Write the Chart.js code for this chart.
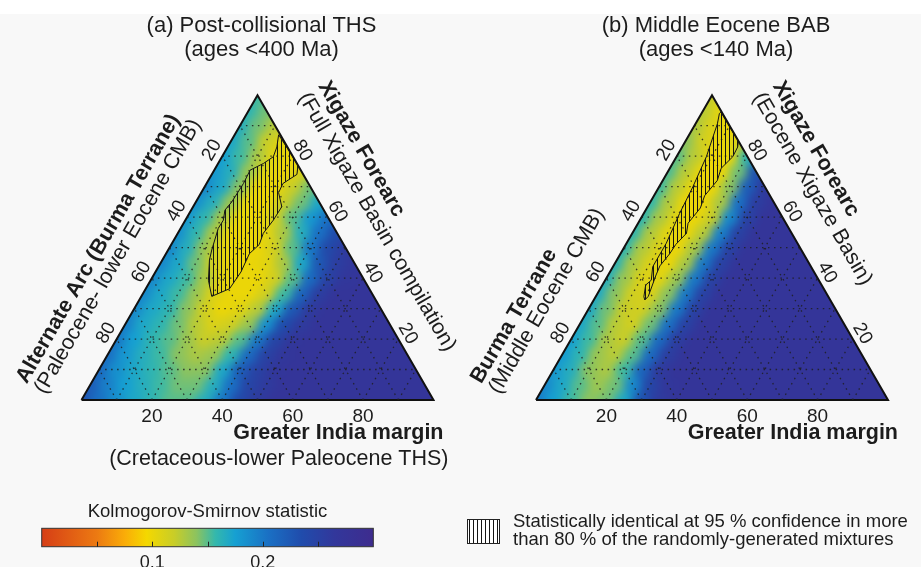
<!DOCTYPE html>
<html>
<head>
<meta charset="utf-8">
<script src="https://cdn.jsdelivr.net/npm/chart.js@4.4.1/dist/chart.umd.min.js"></script>
<style>
    html, body { margin: 0; padding: 0; }
    body {
        width: 921px;
        height: 567px;
        overflow: hidden;
        background: linear-gradient(#ffffff 0, #ffffff 14px, #f8f8f8 14px);
    }
    #wrap { position: relative; width: 921px; height: 567px; }
</style>
</head>
<body>
<div id="wrap"><canvas id="ternaryChart"></canvas></div>
<script>
// ---- data ----
const panelTitles = [
    ['(a) Post-collisional THS', '(ages <400 Ma)'],
    ['(b) Middle Eocene BAB', '(ages <140 Ma)'],
];
const leftAxisTitles = [
    ['Alternate Arc (Burma Terrane)', '(Paleocene- lower Eocene CMB)'],
    ['Burma Terrane', '(Middle Eocene CMB)'],
];
const rightAxisTitles = [
    ['Xigaze Forearc', '(Full Xigaze Basin compilation)'],
    ['Xigaze Forearc', '(Eocene Xigaze Basin)'],
];
const bottomAxisTitles = [
    ['Greater India margin', '(Cretaceous-lower Paleocene THS)'],
    ['Greater India margin', ''],
];
const axisTicks = [20, 40, 60, 80];
const gridLevels = [10, 20, 30, 40, 50, 60, 70, 80, 90];

// KS statistic at ternary nodes, 5 % steps.
// row k = Xigaze k*5 %, entry i = Greater India i*5 % (rest is Alternate Arc / Burma)
const nodeStep = 5;
const ksPanelA = [
    [0.23, 0.205, 0.185, 0.17, 0.16, 0.15, 0.15, 0.165, 0.20, 0.24, 0.26, 0.27, 0.27, 0.27, 0.27, 0.27, 0.27, 0.27, 0.27, 0.27, 0.27],
    [0.22, 0.195, 0.175, 0.165, 0.155, 0.145, 0.145, 0.165, 0.205, 0.245, 0.26, 0.27, 0.27, 0.27, 0.27, 0.27, 0.27, 0.27, 0.27, 0.27],
    [0.21, 0.185, 0.17, 0.16, 0.15, 0.14, 0.14, 0.17, 0.22, 0.25, 0.265, 0.27, 0.27, 0.27, 0.27, 0.27, 0.27, 0.27, 0.27],
    [0.205, 0.18, 0.165, 0.155, 0.14, 0.13, 0.135, 0.16, 0.21, 0.25, 0.265, 0.27, 0.27, 0.27, 0.27, 0.27, 0.27, 0.27],
    [0.20, 0.175, 0.16, 0.15, 0.135, 0.12, 0.125, 0.15, 0.20, 0.245, 0.265, 0.27, 0.27, 0.27, 0.27, 0.27, 0.27],
    [0.195, 0.17, 0.16, 0.145, 0.125, 0.11, 0.115, 0.135, 0.185, 0.235, 0.26, 0.27, 0.27, 0.27, 0.27, 0.27],
    [0.19, 0.17, 0.16, 0.14, 0.115, 0.10, 0.105, 0.125, 0.17, 0.225, 0.26, 0.27, 0.27, 0.27, 0.27],
    [0.19, 0.17, 0.155, 0.135, 0.11, 0.10, 0.10, 0.115, 0.155, 0.215, 0.255, 0.27, 0.27, 0.27],
    [0.19, 0.17, 0.155, 0.13, 0.105, 0.10, 0.10, 0.115, 0.15, 0.21, 0.25, 0.265, 0.27],
    [0.19, 0.17, 0.145, 0.115, 0.10, 0.10, 0.105, 0.13, 0.17, 0.225, 0.255, 0.265],
    [0.19, 0.165, 0.135, 0.105, 0.10, 0.10, 0.115, 0.15, 0.20, 0.24, 0.26],
    [0.185, 0.16, 0.13, 0.10, 0.10, 0.105, 0.13, 0.165, 0.205, 0.235],
    [0.18, 0.16, 0.13, 0.10, 0.10, 0.115, 0.15, 0.18, 0.205],
    [0.185, 0.165, 0.135, 0.10, 0.10, 0.12, 0.145, 0.17],
    [0.19, 0.17, 0.14, 0.10, 0.10, 0.12, 0.145],
    [0.18, 0.165, 0.135, 0.105, 0.10, 0.11],
    [0.175, 0.155, 0.13, 0.105, 0.10],
    [0.17, 0.15, 0.12, 0.105],
    [0.165, 0.145, 0.125],
    [0.16, 0.145],
    [0.155],
];
const ksPanelB = [
    [0.20, 0.175, 0.155, 0.14, 0.145, 0.17, 0.23, 0.26, 0.27, 0.27, 0.27, 0.27, 0.27, 0.27, 0.27, 0.27, 0.27, 0.27, 0.27, 0.27, 0.27],
    [0.19, 0.17, 0.15, 0.135, 0.145, 0.19, 0.245, 0.265, 0.27, 0.27, 0.27, 0.27, 0.27, 0.27, 0.27, 0.27, 0.27, 0.27, 0.27, 0.27],
    [0.18, 0.165, 0.14, 0.13, 0.155, 0.215, 0.26, 0.27, 0.27, 0.27, 0.27, 0.27, 0.27, 0.27, 0.27, 0.27, 0.27, 0.27, 0.27],
    [0.178, 0.16, 0.135, 0.125, 0.15, 0.21, 0.255, 0.27, 0.27, 0.27, 0.27, 0.27, 0.27, 0.27, 0.27, 0.27, 0.27, 0.27],
    [0.175, 0.155, 0.13, 0.12, 0.15, 0.21, 0.255, 0.27, 0.27, 0.27, 0.27, 0.27, 0.27, 0.27, 0.27, 0.27, 0.27],
    [0.17, 0.15, 0.125, 0.115, 0.145, 0.205, 0.25, 0.27, 0.27, 0.27, 0.27, 0.27, 0.27, 0.27, 0.27, 0.27],
    [0.17, 0.145, 0.12, 0.115, 0.14, 0.20, 0.25, 0.27, 0.27, 0.27, 0.27, 0.27, 0.27, 0.27, 0.27],
    [0.168, 0.14, 0.115, 0.11, 0.14, 0.20, 0.25, 0.27, 0.27, 0.27, 0.27, 0.27, 0.27, 0.27],
    [0.165, 0.135, 0.11, 0.105, 0.135, 0.20, 0.25, 0.27, 0.27, 0.27, 0.27, 0.27, 0.27],
    [0.162, 0.13, 0.11, 0.10, 0.13, 0.20, 0.25, 0.27, 0.27, 0.27, 0.27, 0.27],
    [0.16, 0.128, 0.11, 0.10, 0.13, 0.20, 0.25, 0.27, 0.27, 0.27, 0.27],
    [0.16, 0.128, 0.105, 0.10, 0.125, 0.195, 0.25, 0.27, 0.27, 0.27],
    [0.16, 0.13, 0.105, 0.10, 0.12, 0.19, 0.25, 0.27, 0.27],
    [0.158, 0.128, 0.10, 0.10, 0.13, 0.205, 0.255, 0.27],
    [0.155, 0.125, 0.10, 0.10, 0.14, 0.22, 0.26],
    [0.152, 0.125, 0.10, 0.10, 0.145, 0.23],
    [0.15, 0.125, 0.10, 0.10, 0.16],
    [0.14, 0.115, 0.10, 0.11],
    [0.13, 0.11, 0.10],
    [0.125, 0.105],
    [0.12],
];

// outlines of the hatched "statistically identical" areas, [Greater India %, Xigaze %]
const hatchPanelA = [
    [12.5, 87], [17.5, 82.3], [23, 77], [24.2, 74], [21.7, 71], [22, 68], [25.2, 63.4], [25, 59],
    [24.3, 54.7], [25, 51], [23.7, 48], [24.3, 42], [23.8, 36.5], [20, 34], [16.4, 39.3], [13.4, 45.9],
    [12.4, 49.2], [10.7, 56.3], [10.8, 59], [9.6, 62.3], [10.2, 65], [10.5, 71], [10.2, 75.4],
    [12.9, 77.6], [14.6, 79.8], [14, 83],
];
const hatchPanelB = [
    [5.3, 94.5], [10.2, 89.6], [15, 85], [15.8, 83], [16, 79.8], [14.6, 76], [15.5, 72], [14.4, 67],
    [15.2, 63], [14.2, 58], [15.4, 54.7], [14.2, 51], [14, 48], [13.2, 44], [13.6, 41], [14.9, 34],
    [14.5, 32.8], [13.7, 33.9], [12.3, 37.7], [13.1, 39.3], [11.3, 43.7], [11.3, 51.4], [10.2, 61.2],
    [9.6, 69.9], [8.5, 79.8], [6.2, 90.7], [5.1, 94],
];

const ksRange = [0, 0.3];
const colorbarTicks = [0.05, 0.1, 0.15, 0.2, 0.25];
const colorbarLabels = ['', '0.1', '', '0.2', ''];
const colorbarTitle = 'Kolmogorov-Smirnov statistic';
const legendLines = ['Statistically identical at 95 % confidence in more', 'than 80 % of the randomly-generated mixtures'];

// ---- layout ----
const UNIT = 3.52;          // px per ternary unit (base = 100 units)
const ORIGIN_X = 81.5;      // left corner of panel (a)
const BASE_Y = 400;
const panelShift = [0, 129.12];
const H3 = Math.sqrt(3) / 2;
const FONT = '"Liberation Sans", Arial, sans-serif';
const TEXT = '#1c1c1c';

const cmapStops = [
    [0.00, [214, 62, 22]],
    [0.05, [236, 122, 18]],
    [0.075, [250, 172, 8]],
    [0.095, [244, 216, 0]],
    [0.12, [200, 205, 40]],
    [0.14, [140, 195, 95]],
    [0.157, [52, 184, 172]],
    [0.175, [22, 160, 210]],
    [0.205, [26, 112, 196]],
    [0.235, [32, 76, 172]],
    [0.265, [50, 55, 155]],
    [0.30, [62, 44, 142]],
];

function ksColor(v) {
    for (let i = 1; i < cmapStops.length; i++) {
        const [v1, c1] = cmapStops[i];
        const [v0, c0] = cmapStops[i - 1];
        if (v <= v1) {
            const t = Math.max(0, (v - v0) / (v1 - v0));
            const c = c0.map((a, j) => Math.round(a + (c1[j] - a) * t));
            return `rgb(${c[0]},${c[1]},${c[2]})`;
        }
    }
    const last = cmapStops[cmapStops.length - 1][1];
    return `rgb(${last[0]},${last[1]},${last[2]})`;
}

function toXY(gi, xig, panel) {
    return { x: panelShift[panel] + gi + xig / 2, y: xig * H3 };
}

function hatchPattern() {
    const c = document.createElement('canvas');
    c.width = 4;
    c.height = 4;
    const g = c.getContext('2d');
    g.fillStyle = '#151515';
    g.fillRect(1, 0, 1, 4);
    return g.createPattern(c, 'repeat');
}

const pattern = hatchPattern();

function lineSet(points, extra) {
    return Object.assign({
        type: 'line',
        data: points,
        pointRadius: 0,
        tension: 0,
        fill: false,
        borderColor: '#111',
        borderWidth: 1,
    }, extra);
}

function buildDatasets() {
    const sets = [];
    [hatchPanelA, hatchPanelB].forEach((poly, p) => {
        const pts = poly.concat([poly[0]]).map(([gi, xig]) => toXY(gi, xig, p));
        sets.push(lineSet(pts, { fill: 'shape', backgroundColor: pattern, borderColor: '#151515', borderWidth: 1 }));
    });
    [0, 1].forEach((p) => {
        gridLevels.forEach((g) => {
            const dash = { borderDash: [1.5, 4.5], borderWidth: 1.3, borderColor: 'rgba(30,30,30,0.85)' };
            sets.push(lineSet([toXY(g, 0, p), toXY(g, 100 - g, p)], dash));
            sets.push(lineSet([toXY(0, g, p), toXY(100 - g, g, p)], dash));
            sets.push(lineSet([toXY(100 - g, 0, p), toXY(0, 100 - g, p)], dash));
        });
        const outline = [toXY(0, 0, p), toXY(100, 0, p), toXY(0, 100, p), toXY(0, 0, p)];
        sets.push(lineSet(outline, { borderWidth: 2, borderColor: '#111' }));
    });
    return sets;
}

function pix(chart, gi, xig, panel) {
    const p = toXY(gi, xig, panel);
    return [chart.scales.x.getPixelForValue(p.x), chart.scales.y.getPixelForValue(p.y)];
}

function trianglePath(ctx, chart, panel) {
    ctx.beginPath();
    ctx.moveTo(...pix(chart, 0, 0, panel));
    ctx.lineTo(...pix(chart, 100, 0, panel));
    ctx.lineTo(...pix(chart, 0, 100, panel));
    ctx.closePath();
}

function drawField(chart, ks, panel) {
    const ctx = chart.ctx;
    const layer = document.createElement('canvas');
    layer.width = chart.width;
    layer.height = chart.height;
    const lc = layer.getContext('2d');
    const xs = chart.scales.x;
    const r = (xs.getPixelForValue(nodeStep) - xs.getPixelForValue(0)) / Math.sqrt(3);

    // pad outside the triangle so the blur keeps the edges full
    ks.forEach((row, k) => row.forEach((v, i) => {
        const gi = i * nodeStep;
        const xig = k * nodeStep;
        if (gi === 0 || xig === 0 || gi + xig === 100) {
            const [cx, cy] = pix(chart, gi, xig, panel);
            lc.fillStyle = ksColor(v);
            lc.beginPath();
            lc.arc(cx, cy, r * 2.2, 0, Math.PI * 2);
            lc.fill();
        }
    }));

    ks.forEach((row, k) => row.forEach((v, i) => {
        const [cx, cy] = pix(chart, i * nodeStep, k * nodeStep, panel);
        lc.fillStyle = ksColor(v);
        lc.beginPath();
        for (let a = 0; a < 6; a++) {
            const ang = Math.PI / 6 + a * Math.PI / 3;
            lc.lineTo(cx + r * 1.04 * Math.cos(ang), cy + r * 1.04 * Math.sin(ang));
        }
        lc.closePath();
        lc.fill();
    }));

    ctx.save();
    trianglePath(ctx, chart, panel);
    ctx.clip();
    ctx.filter = 'blur(5px)';
    ctx.drawImage(layer, 0, 0);
    ctx.restore();
}

function rotText(ctx, text, x, y, ang, font, align) {
    ctx.save();
    ctx.translate(x, y);
    ctx.rotate(ang);
    ctx.font = font;
    ctx.textAlign = align;
    ctx.textBaseline = 'middle';
    ctx.fillText(text, 0, 0);
    ctx.restore();
}

const fieldPlugin = {
    id: 'ksField',
    beforeDatasetsDraw(chart) {
        drawField(chart, ksPanelA, 0);
        drawField(chart, ksPanelB, 1);
    },
};

const labelPlugin = {
    id: 'ternaryLabels',
    afterDatasetsDraw(chart) {
        const ctx = chart.ctx;
        const xs = chart.scales.x;
        const ys = chart.scales.y;
        const dirL = [0.5, -H3], nL = [-H3, -0.5];
        const dirR = [0.5, H3], nR = [H3, -0.5];
        ctx.fillStyle = TEXT;

        [0, 1].forEach((p) => {
            const apex = pix(chart, 0, 100, p);
            const bl = pix(chart, 0, 0, p);
            const br = pix(chart, 100, 0, p);

            ctx.font = `22px ${FONT}`;
            ctx.textAlign = 'center';
            ctx.textBaseline = 'alphabetic';
            ctx.fillText(panelTitles[p][0], apex[0] + 4, 32);
            ctx.fillText(panelTitles[p][1], apex[0] + 4, 56);

            axisTicks.forEach((v) => {
                const l = pix(chart, 0, 100 - v, p);
                rotText(ctx, String(v), l[0] + nL[0] * 12, l[1] + nL[1] * 12, -Math.PI / 3, `19px ${FONT}`, 'center');
                const r = pix(chart, 100 - v, v, p);
                rotText(ctx, String(v), r[0] + nR[0] * 11, r[1] + nR[1] * 11, Math.PI / 3, `19px ${FONT}`, 'center');
                const b = pix(chart, v, 0, p);
                ctx.font = `19px ${FONT}`;
                ctx.textAlign = 'center';
                ctx.textBaseline = 'alphabetic';
                ctx.fillText(String(v), b[0], b[1] + 22);
            });

            const sL = -14;
            [[61, 'bold '], [40, '']].forEach(([d, w], j) => {
                rotText(ctx, leftAxisTitles[p][j],
                    bl[0] + dirL[0] * sL + nL[0] * d, bl[1] + dirL[1] * sL + nL[1] * d,
                    -Math.PI / 3, `${w}21.5px ${FONT}`, 'left');
            });
            const sR = 22;
            [[63, 'bold '], [40, '']].forEach(([d, w], j) => {
                rotText(ctx, rightAxisTitles[p][j],
                    apex[0] + dirR[0] * sR + nR[0] * d, apex[1] + dirR[1] * sR + nR[1] * d,
                    Math.PI / 3, `${w}21.5px ${FONT}`, 'left');
            });

            ctx.textAlign = 'right';
            ctx.textBaseline = 'alphabetic';
            ctx.font = `bold 21.5px ${FONT}`;
            ctx.fillText(bottomAxisTitles[p][0], br[0] + 10, 439);
            ctx.font = `21.5px ${FONT}`;
            ctx.fillText(bottomAxisTitles[p][1], br[0] + 15, 465);
        });

        // colour bar, placed in chart units below panel (a)
        const cbLeft = -11.3, cbRight = 82.9, cbTop = -36.45, cbBottom = -41.68;
        const x0 = xs.getPixelForValue(cbLeft), x1 = xs.getPixelForValue(cbRight);
        const y0 = ys.getPixelForValue(cbTop), y1 = ys.getPixelForValue(cbBottom);
        const kx = (v) => x0 + (x1 - x0) * (v - ksRange[0]) / (ksRange[1] - ksRange[0]);
        const grad = ctx.createLinearGradient(x0, 0, x1, 0);
        cmapStops.forEach(([v]) => grad.addColorStop((v - ksRange[0]) / (ksRange[1] - ksRange[0]), ksColor(v)));
        ctx.fillStyle = grad;
        ctx.fillRect(x0, y0, x1 - x0, y1 - y0);
        ctx.strokeStyle = '#333';
        ctx.lineWidth = 1;
        ctx.strokeRect(x0, y0, x1 - x0, y1 - y0);
        ctx.beginPath();
        colorbarTicks.forEach((v) => {
            ctx.moveTo(Math.round(kx(v)) + 0.5, y1);
            ctx.lineTo(Math.round(kx(v)) + 0.5, y1 - 5);
        });
        ctx.strokeStyle = '#222';
        ctx.stroke();
        ctx.fillStyle = TEXT;
        ctx.font = `18px ${FONT}`;
        ctx.textAlign = 'center';
        ctx.textBaseline = 'alphabetic';
        colorbarTicks.forEach((v, i) => ctx.fillText(colorbarLabels[i], kx(v), y1 + 21));
        ctx.font = `18.5px ${FONT}`;
        ctx.fillText(colorbarTitle, (x0 + x1) / 2, 517);

        // hatch legend
        ctx.fillStyle = '#ffffff';
        ctx.fillRect(467, 519, 32, 24);
        ctx.fillStyle = pattern;
        ctx.fillRect(467, 519, 32, 24);
        ctx.strokeStyle = '#222';
        ctx.strokeRect(467.5, 519.5, 32, 24);
        ctx.fillStyle = TEXT;
        ctx.textAlign = 'left';
        ctx.font = `18.5px ${FONT}`;
        ctx.fillText(legendLines[0], 513, 527);
        ctx.fillText(legendLines[1], 513, 545);
    },
};

new Chart(document.getElementById('ternaryChart'), {
    type: 'scatter',
    data: { datasets: buildDatasets() },
    options: {
        responsive: true,
        maintainAspectRatio: false,
        animation: false,
        events: [],
        layout: { padding: 0 },
        plugins: { legend: { display: false }, tooltip: { enabled: false } },
        scales: {
            x: { type: 'linear', display: false, min: -ORIGIN_X / UNIT, max: (921 - ORIGIN_X) / UNIT },
            y: { type: 'linear', display: false, min: -(567 - BASE_Y) / UNIT, max: BASE_Y / UNIT },
        },
    },
    plugins: [fieldPlugin, labelPlugin],
});
</script>
</body>
</html>
